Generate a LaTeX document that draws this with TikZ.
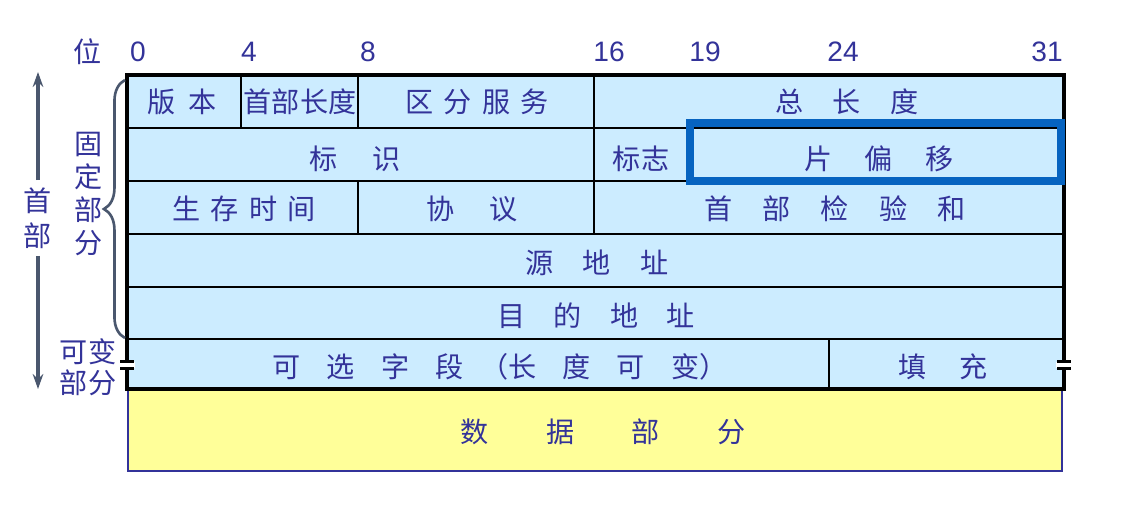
\documentclass[tikz,border=0pt]{standalone}
\usepackage{fontspec}
\setmainfont{Liberation Sans}
\newfontfamily\cjk{Noto Sans CJK SC}
\usetikzlibrary{arrows.meta,decorations.pathreplacing}
\definecolor{qianlan}{RGB}{204,236,255}
\definecolor{qianhuang}{RGB}{255,255,153}
\definecolor{zilan}{RGB}{51,51,153}
\definecolor{huilan}{RGB}{74,87,110}
\definecolor{shenlan}{RGB}{6,99,192}
\newcommand{\kg}[1]{\hspace{#1em}}

\begin{document}
\begin{tikzpicture}[x=0.02cm,y=-0.02cm,>=Stealth,
  zi/.style={text=zilan,font=\cjk\fontsize{16}{19}\selectfont,inner sep=0pt},
  shu/.style={text=zilan,font=\fontsize{16}{19}\selectfont,inner sep=0pt},
  xian/.style={line width=1.2pt}]
\useasboundingbox (0,0) rectangle (1139,505);

%% 数据部分(黄色)
\draw[fill=qianhuang,draw=zilan,line width=1.2pt] (128,389) rectangle (1062,471);

%% 首部的底色和横线
\fill[qianlan] (127,75) rectangle (1064,389);
\foreach \y in {128,181,234,287,339} \draw[xian] (127,\y) -- (1064,\y);

%% 竖线
\draw[xian] (241,75) -- (241,128);
\draw[xian] (358,75) -- (358,128);
\draw[xian] (358,181) -- (358,234);
\draw[xian] (594,75) -- (594,234);
\draw[xian] (688,128) -- (688,181);
\draw[xian] (829,339) -- (829,389);

%% 外框
\draw[line width=2.2pt] (127,75) rectangle (1064,389);

%% 片偏移的蓝框
\draw[shenlan,line width=4.5pt] (690,123) rectangle (1061,181);
\draw[xian] (695,128) -- (1057,128);

%% 可变部分的断开符号
\foreach \x in {127,1064} {
  \fill[white] (\x-8,362) rectangle (\x+8,368);
  \draw[line width=1.6pt] (\x-7,361.5) -- (\x+7,361.5);
  \draw[line width=1.6pt] (\x-7,368.5) -- (\x+7,368.5);
}

%% 位
\node[zi] (wei) at (88,52) {位};
\foreach \x/\b in {138/0,249/4,368/8,609/16,705/19,843/24,1047/31}
  \node[shu] (bit\b) at (\x,52) {\b};

%% 左边的箭头和大括号
\node[zi,align=center,inner sep=4pt,font=\cjk\fontsize{16}{20}\selectfont] (shoubu) at (38,218) {首\\部};
\coordinate (jtshang) at (38,72);
\coordinate (jtxia) at (38,389);
\draw[huilan,line width=2.2pt,-{Stealth[length=8.5pt,width=6pt]}] (shoubu.north) -- (jtshang);
\draw[huilan,line width=2.2pt,-{Stealth[length=8.5pt,width=6pt]}] (shoubu.south) -- (jtxia);

\draw[huilan,line width=1.5pt,decorate,decoration={brace,amplitude=12pt}] (125,338) -- (125,80);
\node[zi,align=center,font=\cjk\fontsize{16}{18.7}\selectfont] (guding) at (89,194) {固\\定\\部\\分};
\node[zi,align=center,font=\cjk\fontsize{16}{17.6}\selectfont] (kebian) at (88,367) {可变\\部分};

%% 各个字段
\node[zi] (banben) at (182,102) {版\kg{0.43}本};
\node[zi] (shoubuchangdu) at (300,102) {首部长度};
\node[zi] (qufen) at (477,102) {区\kg{0.36}分\kg{0.36}服\kg{0.36}务};
\node[zi] (zongchangdu) at (847,102) {总\kg{1.04}长\kg{1.04}度};

\node[zi] (biaoshi) at (355,159) {标\kg{1.25}识};
\node[zi] (biaozhi) at (641,159) {标志};
\node[zi] (pianyi) at (879,159) {片\kg{1.14}偏\kg{1.14}移};

\node[zi] (shengcun) at (244,209) {生\kg{0.37}存\kg{0.37}时\kg{0.37}间};
\node[zi] (xieyi) at (472,209) {协\kg{1.25}议};
\node[zi] (jianyan) at (835,209) {首\kg{1.07}部\kg{1.07}检\kg{1.07}验\kg{1.07}和};

\node[zi] (yuan) at (597,263) {源\kg{1.04}地\kg{1.04}址};
\node[zi] (mudi) at (596,316) {目\kg{1}的\kg{1}地\kg{1}址};

\node[zi] (kexuan) at (500,367) {可\kg{0.93}选\kg{0.93}字\kg{0.93}段\kg{0.6}（长\kg{0.93}度\kg{0.93}可\kg{0.93}变）};
\node[zi] (tianchong) at (943,367) {填\kg{1.14}充};

\node[zi] (shuju) at (603,432) {数\kg{2.04}据\kg{2.04}部\kg{2.04}分};
\end{tikzpicture}
\end{document}
